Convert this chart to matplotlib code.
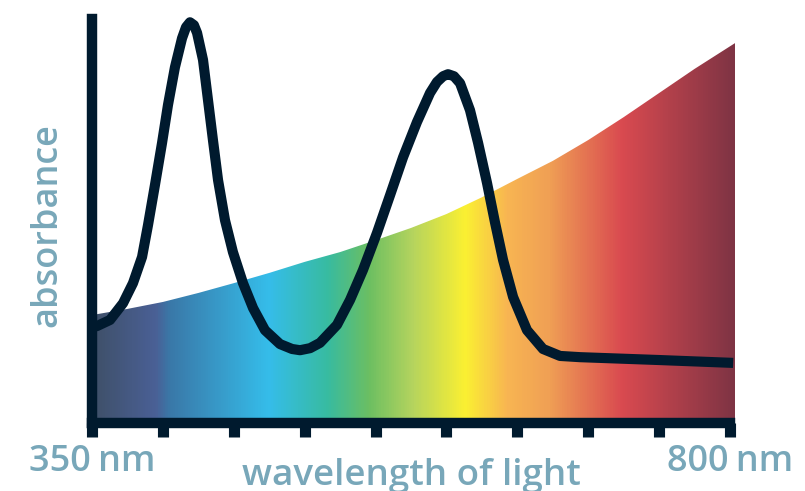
import numpy as np
import matplotlib
matplotlib.use('Agg')
import matplotlib.pyplot as plt
from matplotlib.colors import LinearSegmentedColormap
from matplotlib.patches import Polygon

# absorbance curve (wavelength in nm, arbitrary absorbance units)
curve_nm = [350, 353.5, 362.7, 371.9, 378.9, 385.3, 389.5, 394.4, 399.4, 403.6, 408.5,
            413.5, 416.3, 419.1, 421.9, 424.1, 428.3, 431.8, 435.3, 438.9, 443.8, 449.4,
            456.5, 463.6, 472, 482.6, 491.1, 496.7, 503.8, 510.8, 522.8, 532, 541.1,
            551, 560.2, 569.4, 579.2, 588.4, 593.3, 597.6, 601.1, 605.3, 609.6, 616.6,
            622.3, 628.6, 634.2, 639.9, 647, 656.8, 668.1, 680.1, 694.2, 750, 802.2]
curve_abs = [0.235, 0.237, 0.252, 0.293, 0.342, 0.406, 0.484, 0.582, 0.685, 0.778, 0.87,
             0.941, 0.968, 0.98, 0.973, 0.954, 0.888, 0.79, 0.692, 0.594, 0.496, 0.418,
             0.342, 0.281, 0.227, 0.193, 0.181, 0.178, 0.183, 0.196, 0.24, 0.301, 0.374,
             0.465, 0.557, 0.65, 0.736, 0.807, 0.834, 0.848, 0.853, 0.848, 0.831, 0.765,
             0.685, 0.587, 0.491, 0.399, 0.308, 0.227, 0.181, 0.164, 0.161, 0.154, 0.147]

# upper edge of the coloured spectrum area
edge_nm = [350, 375, 400, 425, 450, 475, 500, 525, 550, 575, 600, 625, 650, 675,
           700, 725, 750, 775, 803.5]
edge_abs = [0.264, 0.279, 0.296, 0.318, 0.342, 0.367, 0.394, 0.418, 0.447, 0.477,
            0.511, 0.552, 0.597, 0.641, 0.692, 0.748, 0.807, 0.866, 0.929]

tick_nm = [350, 400, 450, 500, 550, 600, 650, 700, 750, 800]

# spectrum colour stops
stop_nm = [350, 394, 404, 474, 516, 545, 576, 613, 643, 672, 724, 803.5]
stop_colors = ['#3f5068', '#4a6096', '#3a78a8', '#35bdea', '#38bba0', '#6cbf62',
               '#b5d45e', '#fbf032', '#f8b552', '#f0a055', '#d94a50', '#7e3444']

dark = '#001a2e'
txt = '#78a7b9'
plt.rcParams['font.family'] = ['Open Sans', 'DejaVu Sans']

fig = plt.figure(figsize=(8.05, 4.91), dpi=100)
ax = fig.add_axes([92/805, 68/491, 643/805, 404/491])
ax.set_xlim(350, 803.5)
ax.set_ylim(0, 0.988)

# gradient clipped to the area under the edge
lo, hi = stop_nm[0], stop_nm[-1]
cmap = LinearSegmentedColormap.from_list(
    'spec', [((n - lo) / (hi - lo), c) for n, c in zip(stop_nm, stop_colors)])
xs = np.linspace(lo, hi, 800)
im = ax.imshow(xs[np.newaxis, :], cmap=cmap, aspect='auto',
               extent=(lo, hi, 0, 1), origin='lower', zorder=1)
verts = list(zip(edge_nm, edge_abs)) + [(edge_nm[-1], 0), (edge_nm[0], 0)]
clip = Polygon(verts, closed=True, transform=ax.transData, facecolor='none', edgecolor='none')
ax.add_patch(clip)
im.set_clip_path(clip)

ax.plot(curve_nm, curve_abs, color=dark, lw=7.3, solid_capstyle='butt',
        solid_joinstyle='round', zorder=3, clip_on=False)

for s in ['top', 'right']:
    ax.spines[s].set_visible(False)
for s in ['left', 'bottom']:
    ax.spines[s].set_linewidth(7.5)
    ax.spines[s].set_color(dark)
    ax.spines[s].set_capstyle('projecting')
    ax.spines[s].set_zorder(4)
ax.spines['bottom'].set_bounds(350, 800)

ax.set_xticks(tick_nm)
ax.set_xticklabels([])
ax.set_yticks([])
ax.tick_params(axis='x', direction='out', length=10, width=8, color=dark)

tr = ax.get_xaxis_transform()
ax.text(350, -0.119, '350\u2009nm', transform=tr, ha='center', va='baseline',
        fontsize=26, color=txt, fontweight='semibold')
ax.text(800, -0.119, '800\u2009nm', transform=tr, ha='center', va='baseline',
        fontsize=26, color=txt, fontweight='semibold')
ax.text(575, -0.153, 'wavelength of light', transform=tr, ha='center', va='baseline',
        fontsize=26.5, color=txt, fontweight='semibold')
fig.text(47/805, (491 - 225.5)/491, 'absorbance', rotation=90, ha='center', va='center',
         fontsize=26, color=txt, fontweight='semibold')

fig.savefig('out.png', dpi=100)
